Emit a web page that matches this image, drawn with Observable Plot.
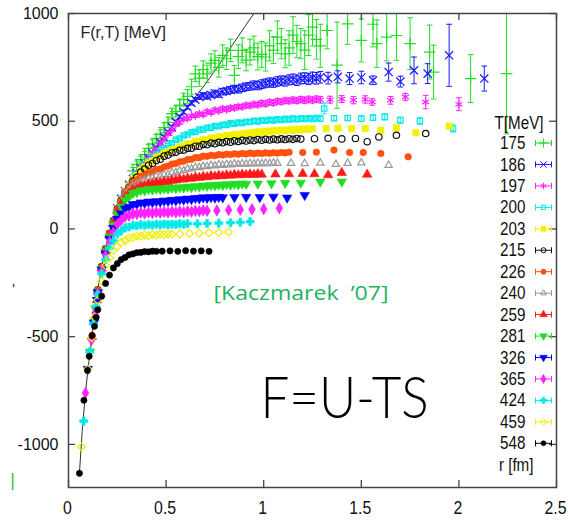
<!DOCTYPE html>
<html><head><meta charset="utf-8">
<script src="https://cdn.jsdelivr.net/npm/d3@7"></script>
<script src="https://cdn.jsdelivr.net/npm/@observablehq/plot@0.6"></script>
<style>body{margin:0;background:#fff;} #chart{width:568px;height:520px;}</style>
</head><body><div id="chart"></div>
<script>
// ---------- tick labels / categories ----------
const xTicks = [0, 0.5, 1, 1.5, 2, 2.5];
const yTicks = [-1000, -500, 0, 500, 1000];
const temps = [175, 186, 197, 200, 203, 215, 226, 240, 259, 281, 326, 365, 424, 459, 548];

// ---------- T=0 reference curve ----------
const lineR = [0.056,0.07,0.087,0.1,0.12,0.145,0.171,0.19,0.21,0.23,0.25,0.27,0.3,0.33,0.36,0.4,0.45,0.5,0.6,0.7,0.8,0.9,0.95];
const lineF = [-1134,-940,-760,-650,-500,-310,-170,-90,-20,40,95,140,190,232,270,316,375,436,557,670,800,935,1000];

// ---------- shared r grid for the dense part of every series ----------
const rDense = [0.15,0.17,0.19,0.21,0.23,0.25,0.27,0.29,0.31,0.33,0.35,0.37,0.39,0.41,0.43,0.45,0.47,0.49,0.51,0.53,0.55,0.57,0.59,0.61,0.63,0.65,0.67,0.69,0.71,0.73,0.75,0.77,0.79,0.81,0.83,0.85,0.87,0.89,0.91,0.93,0.95,0.97,0.99,1.01,1.03,1.05,1.07,1.09,1.11,1.13,1.15,1.17,1.19,1.21,1.23,1.25,1.27,1.29];

// T = 175 MeV
const d175 = [null,null,null,null,null,null,null,null,null,270,300,322,345,374,395,420,440,470,495,535,545,575,600,615,660,720,700,740,720,770,782,750,806,790,829,713,800,829,784,821,840,800,810,798,850,830,890,860,813,840,900,870,860,830,900,937,880,850];
const e175 = [null,null,null,null,null,null,null,null,null,15,15,16,16,17,18,18,20,22,24,25,26,28,30,32,35,36,38,40,40,42,45,45,48,50,52,45,55,58,50,60,55,62,60,65,70,62,75,70,65,80,85,75,70,90,95,88,92,100];
const t175r = [1.325,1.376,1.43,1.5,1.56,1.58,1.63,1.68,1.75,1.85,1.87,2.06,2.244];
const t175F = [921,760,952,875,950,860,890,898,860,821,728,698,721];
const t175e = [85,200,95,100,105,110,110,115,120,125,125,111,280];
// T = 186 MeV
const d186 = [null,null,null,null,null,95,140,175,205,232,258,282,305,330,352,377,402,426,450,473,497,520,543,565,585,600,612,620,615,622,630,625,637,640,645,650,648,655,660,662,668,665,672,676,680,678,685,688,686,692,695,690,698,700,696,702,699,704];
const e186 = [null,null,null,null,null,4,4,4,5,5,5,5,6,6,6,6,7,7,7,8,8,8,9,9,10,10,11,12,12,13,14,14,15,15,16,16,17,17,18,18,19,19,20,20,21,21,22,22,23,23,24,24,25,25,26,26,27,27];
const t186r = [1.33,1.38,1.44,1.5,1.56,1.64,1.7,1.77,1.84,1.95,2.13];
const t186F = [700,706,698,703,690,728,684,736,721,806,698];
const t186e = [27,28,28,29,20,42,25,62,46,144,58];
// T = 197 MeV
const d197 = [null,null,null,-18,42,93,142,173,207,230,260,280,307,326,352,370,397,416,442,460,484,494,510,513,524,526,535,531,544,540,552,548,558,554,562,561,568,567,574,572,579,576,584,580,589,585,593,590,596,594,599,595,601,597,602,598,603,600];
const e197 = [null,null,null,4,4,4,4,5,5,5,5,5,6,6,6,6,6,7,7,7,7,7,8,8,8,8,8,9,9,9,9,9,10,10,10,10,10,11,11,11,11,11,12,12,12,12,12,13,13,13,13,13,14,14,14,14,14,15];
const t197r = [1.34,1.4,1.46,1.52,1.556,1.65,1.726,1.83,2.0];
const t197F = [600,603,598,601,589,597,613,589,579];
const t197e = [16,16,17,17,15,18,16,31,30];
// T = 200 MeV
const d200 = [null,null,-88,-24,40,91,140,171,205,228,257,276,300,314,335,346,364,373,392,398,414,420,434,438,449,451,461,462,470,470,478,477,484,483,490,488,494,492,498,496,502,499,505,502,507,504,509,506,511,508,512,509,513,510,514,511,515,512];
const e200 = [null,null,3,3,3,3,3,3,4,4,4,4,4,4,5,5,5,5,5,5,6,6,6,6,6,6,7,7,7,7,7,7,8,8,8,8,8,8,9,9,9,9,9,9,10,10,10,10,10,10,11,11,11,11,11,11,12,12];
const t200r = [1.31,1.36,1.43,1.5,1.56,1.62,1.7,1.8,1.97];
const t200F = [559,514,515,512,516,520,505,501,466];
const t200e = [25,12,12,13,13,14,14,15,16];
// T = 203 MeV
const h203r = [0.14], h203F = [-365];
const d203 = [-282,-175,-93,-20,36,94,135,174,198,228,248,273,288,307,316,332,338,352,356,368,371,382,384,394,396,406,407,415,414,422,421,428,427,434,433,439,437,443,441,447,445,451,449,454,452,457,454,459,456,461,458,463,460,465,462,466];
const t203r = [1.32,1.38,1.45,1.52,1.6,1.68,1.78,1.95];
const t203F = [466,467,466,466,458,469,446,477];
// T = 215 MeV
const h215r = [0.133], h215F = [-420];
const d215 = [-283,-176,-95,-21,35,92,132,170,193,222,240,264,278,296,304,318,324,338,343,354,356,365,366,374,375,384,384,392,391,399,396,402,400,406,403,409,406,411,408,413,410,415,412,416,413,417,414,418,415,419,416,420,417];
const t215r = [1.26,1.33,1.4,1.47,1.53,1.59,1.68,1.83];
const t215F = [419,421,418,420,405,427,435,443];
// T = 226 MeV
const h226r = [0.121], h226F = [-495];
const d226 = [-285,-178,-97,-23,33,90,128,170,193,217,228,244,250,262,266,276,278,287,292,301,304,312,314,322,323,331,331,338,337,342,340,345,343,347,345,349,347,350,348,352,349,352,350,353,351,354,352,355,353,356];
const t226r = [1.2,1.27,1.36,1.44,1.51,1.6,1.74];
const t226F = [355,356,366,355,355,350,335];
// T = 240 MeV
const h240r = [0.13], h240F = [-430];
const d240 = [-287,-180,-99,-26,30,87,126,162,180,200,208,222,226,236,237,245,244,252,253,261,262,270,271,279,279,286,285,291,290,295,293,298,296,300,298,302,300,303,301,304,302,305,303,305,304,306,305];
const t240r = [1.14,1.21,1.29,1.37,1.43,1.5,1.64];
const t240F = [305,304,306,300,305,307,296];
// T = 259 MeV
const h259r = [0.12,0.146], h259F = [-500,-330];
const d259 = [-290,-183,-102,-30,26,82,118,150,164,181,187,198,200,208,208,215,214,219,219,225,226,231,230,235,234,240,238,243,241,246,244,248,246,250,248,252,250,253,251,254,252,255,253];
const t259r = [1.06,1.13,1.2,1.26,1.33,1.4,1.53];
const t259F = [254,255,256,255,250,261,253];
// T = 281 MeV
const h281r = [0.11,0.138], h281F = [-570,-370];
const d281 = [-292,-186,-107,-36,18,70,103,134,149,166,170,179,178,184,182,186,184,188,186,191,189,193,191,196,193,198,196,201,199,203,201,205,203,207,205,209,206,210,208];
const t281r = [0.97,1.04,1.11,1.19,1.29,1.4];
const t281F = [210,211,213,214,219,219];
// T = 326 MeV
const h326r = [0.099,0.13,0.146], h326F = [-650,-435,-330];
const d326 = [-295,-190,-114,-46,3,47,71,94,102,114,115,122,120,126,123,128,126,131,129,134,132,137,135,140,138,143,141,146,143,147,145,148,146];
const t326r = [0.85,0.91,0.98,1.05,1.12,1.21];
const t326F = [147,148,147,149,145,157];
// T = 365 MeV
const h365r = [0.087,0.118,0.136], h365F = [-761,-515,-390];
const d365 = [-300,-196,-124,-60,-17,22,40,57,61,70,69,75,72,77,74,78,75,79,76,80,77,81,78,82,80,84,82,86,84];
const t365r = [0.76,0.82,0.88,0.94,1.0,1.08];
const t365F = [86,88,89,91,92,96];
// T = 424 MeV
const h424r = [0.078,0.109,0.127,0.141], h424F = [-892,-570,-440,-360];
const d424 = [-305,-208,-142,-88,-54,-23,-9,6,9,17,15,20,17,21,18,22,19,23,20,22,21,24,22,25];
const t424r = [0.66,0.71,0.77,0.83,0.88,0.93];
const t424F = [24,26,27,29,31,34];
// T = 459 MeV
const h459r = [0.067,0.099,0.118,0.134], h459F = [-1011,-650,-505,-410];
const d459 = [-330,-242,-170,-135,-100,-82,-62,-54,-42,-40,-33,-34,-29,-31,-26,-28,-25,-27,-23,-25];
const t459r = [0.57,0.62,0.67,0.72,0.77,0.82];
const t459F = [-23,-21,-20,-18,-17,-14];
// T = 548 MeV
const h548r = [0.056,0.079,0.097,0.106,0.121,0.133,0.142], h548F = [-1134,-795,-657,-591,-495,-452,-410];
const d548 = [-375,-312,-253,-214,-181,-161,-142,-132,-120,-116,-110,-109,-105,-106,-103,-104];
const t548r = [0.48,0.52,0.56,0.6,0.64,0.68,0.72];
const t548F = [-103,-102,-104,-101,-103,-102,-104];

const colors = ["#22dd22","#1a1aff","#ff22ff","#00e8e8","#f2f200","#111111","#ff5010","#9a9a9a","#ff1a1a","#22dd22","#0000ff","#ff22ff","#00e8e8","#eeee00","#000000"];

function build(hr, hF, d, de, tr, tF, te) {
  const out = [];
  hr.forEach((r, i) => out.push({r, F: hF[i], e: null}));
  d.forEach((F, i) => { if (F != null) out.push({r: rDense[i], F, e: de ? de[i] : null}); });
  tr.forEach((r, i) => out.push({r, F: tF[i], e: te ? te[i] : null}));
  return out;
}
const seriesData = [
  build([], [], d175, e175, t175r, t175F, t175e),
  build([], [], d186, e186, t186r, t186F, t186e),
  build([], [], d197, e197, t197r, t197F, t197e),
  build([], [], d200, e200, t200r, t200F, t200e),
  build(h203r, h203F, d203, null, t203r, t203F, null),
  build(h215r, h215F, d215, null, t215r, t215F, null),
  build(h226r, h226F, d226, null, t226r, t226F, null),
  build(h240r, h240F, d240, null, t240r, t240F, null),
  build(h259r, h259F, d259, null, t259r, t259F, null),
  build(h281r, h281F, d281, null, t281r, t281F, null),
  build(h326r, h326F, d326, null, t326r, t326F, null),
  build(h365r, h365F, d365, null, t365r, t365F, null),
  build(h424r, h424F, d424, null, t424r, t424F, null),
  build(h459r, h459F, d459, null, t459r, t459F, null),
  build(h548r, h548F, d548, null, t548r, t548F, null)
];

// ---------- custom symbols ----------
const capSym = {draw(ctx, size){ const w = Math.sqrt(size) / 2; ctx.moveTo(-w, 0); ctx.lineTo(w, 0); }};
const triDown = {draw(ctx, size){ const y = -Math.sqrt(size / (3 * Math.sqrt(3))); const s3 = Math.sqrt(3); ctx.moveTo(0, -y * 2); ctx.lineTo(-s3 * y, y); ctx.lineTo(s3 * y, y); ctx.closePath(); }};
const legSym = {draw(ctx){ ctx.moveTo(-8, 0); ctx.lineTo(8, 0); ctx.moveTo(-8, -3); ctx.lineTo(-8, 3); ctx.moveTo(8, -3); ctx.lineTo(8, 3); }};

const styles = [
  {sym:"plus", filled:false, r:3.8},
  {sym:"times", filled:false, r:3.8},
  {sym:"asterisk", filled:false, r:3.8},
  {sym:"square2", filled:false, r:3.4},
  {sym:"square", filled:true, r:3.6},
  {sym:"circle", filled:false, r:3.2},
  {sym:"circle", filled:true, r:3.3},
  {sym:"triangle2", filled:false, r:3.5},
  {sym:"triangle", filled:true, r:3.5},
  {sym:triDown, filled:true, r:3.5},
  {sym:triDown, filled:true, r:3.5},
  {sym:"diamond", filled:true, r:3.5},
  {sym:"cross", filled:true, r:3.4},
  {sym:"diamond2", filled:false, r:3.5},
  {sym:"circle", filled:true, r:3.1}
];

const SANS = "'Liberation Sans',Arial,sans-serif";

const marks = [];
marks.push(Plot.line(lineR.map((r, i) => ({r, F: lineF[i]})), {x: "r", y: "F", stroke: "#333", strokeWidth: 1, clip: true}));

temps.forEach((T, k) => {
  const st = styles[k], col = colors[k];
  const data = seriesData[k];
  const withErr = data.filter(d => d.e != null);
  if (withErr.length) {
    marks.push(Plot.ruleX(withErr, {x: "r", y1: d => d.F - d.e, y2: d => d.F + d.e, stroke: col, strokeWidth: 1, clip: true}));
    marks.push(Plot.dot(withErr, {x: "r", y: d => d.F + d.e, symbol: capSym, r: 3.2, stroke: col, fill: "none", strokeWidth: 1, clip: true}));
    marks.push(Plot.dot(withErr, {x: "r", y: d => d.F - d.e, symbol: capSym, r: 3.2, stroke: col, fill: "none", strokeWidth: 1, clip: true}));
  }
  marks.push(Plot.dot(data, {x: "r", y: "F", symbol: st.sym, r: st.r,
    fill: st.filled ? col : "none", stroke: col, strokeWidth: st.filled ? 0.6 : 1.2, clip: true}));
});

// axes
marks.push(Plot.axisX(xTicks, {tickSize: 0, tickPadding: 14, dx: -1, tickFormat: d => String(d), fontSize: 18, fontFamily: SANS, fill: "#111", label: null}));
marks.push(Plot.axisY(yTicks, {tickSize: 0, tickPadding: 10, tickFormat: d => String(d), fontSize: 16, fontFamily: SANS, fill: "#111", label: null}));
const PH = 520 - 13 - 33, PW = 568 - 68 - 12;
marks.push(Plot.tickX(xTicks, {x: d => d, insetTop: PH - 7, stroke: "#444", strokeWidth: 1.3}));
marks.push(Plot.tickX(xTicks, {x: d => d, insetBottom: PH - 7, stroke: "#444", strokeWidth: 1.3}));
marks.push(Plot.tickY(yTicks, {y: d => d, insetRight: PW - 7, stroke: "#444", strokeWidth: 1.3}));
marks.push(Plot.tickY(yTicks, {y: d => d, insetLeft: PW - 7, stroke: "#444", strokeWidth: 1.3}));
marks.push(Plot.frame({stroke: "#444", strokeWidth: 1.5}));

// annotations
marks.push(Plot.text(["F(r,T) [MeV]"], {text: d => d, frameAnchor: "top-left", lineAnchor: "middle", dx: 12, dy: 19, textAnchor: "start", fontSize: 16, fontFamily: SANS, fill: "#222"}));
marks.push(Plot.text(["[Kaczmarek  \u201907]"], {text: d => d, frameAnchor: "top-left", lineAnchor: "middle", dx: 145, dy: 280, textAnchor: "start", fontSize: 20, fontFamily: "'Open Sans',sans-serif", fill: "#1fb35e"}));
marks.push(Plot.text(["F=U-TS"], {text: d => d, frameAnchor: "top-left", lineAnchor: "middle", dx: 192, dy: 386, textAnchor: "start", fontSize: 58, fontFamily: "Lato,'Open Sans',sans-serif", fontWeight: 300, fill: "#000"}));
marks.push(Plot.text(["'"], {text: d => d, frameAnchor: "top-left", lineAnchor: "middle", dx: -55, dy: 276, textAnchor: "middle", fontSize: 14, fontFamily: SANS, fill: "#222"}));
marks.push(Plot.text(["|"], {text: d => d, frameAnchor: "top-left", lineAnchor: "middle", dx: -56, dy: 467, textAnchor: "middle", fontSize: 18, fontFamily: SANS, fill: "#3cbf3c"}));

// legend
marks.push(Plot.text(["T[MeV]"], {text: d => d, frameAnchor: "top-right", lineAnchor: "middle", dx: -13, dy: 109, textAnchor: "end", fontSize: 19, fontFamily: SANS, fill: "#111"}));
temps.forEach((T, k) => {
  const st = styles[k], col = colors[k];
  const dy = 129.5 + 21.45 * k;
  marks.push(Plot.text([String(T)], {text: d => d, frameAnchor: "top-right", lineAnchor: "middle", dx: -31, dy, textAnchor: "end", fontSize: 19, fontFamily: SANS, fill: "#111"}));
  marks.push(Plot.dot([0], {frameAnchor: "top-right", dx: -13, dy, symbol: legSym, r: 3, stroke: col, fill: "none", strokeWidth: 1}));
  marks.push(Plot.dot([0], {frameAnchor: "top-right", dx: -13, dy, symbol: st.sym, r: st.r * 0.8, fill: st.filled ? col : "none", stroke: col, strokeWidth: st.filled ? 0.6 : 1}));
});
marks.push(Plot.text(["r [fm]"], {text: d => d, frameAnchor: "top-right", lineAnchor: "middle", dx: -23, dy: 129.5 + 21.45 * 15, textAnchor: "end", fontSize: 19, fontFamily: SANS, fill: "#111"}));

const chart = Plot.plot({
  width: 568, height: 520,
  marginLeft: 68, marginRight: 12, marginTop: 13, marginBottom: 33,
  x: {domain: [0, 2.5]},
  y: {domain: [-1200, 1000]},
  style: {background: "#fff", overflow: "visible"},
  marks
});
document.getElementById("chart").appendChild(chart);

// condensed look for legend texts and x tick labels; fixed widths for annotations
const legendSet = new Set(temps.map(String).concat(["T[MeV]", "r [fm]"]));
const xSet = new Set(xTicks.map(String));
chart.querySelectorAll("text").forEach(t => {
  const s = t.textContent;
  const b = t.getBoundingClientRect();
  let target = null;
  if (legendSet.has(s) && b.left > 470) target = b.width * 0.8;
  else if (xSet.has(s) && b.top > 490) target = b.width * 0.88;
  else if (s === "F=U-TS") target = 168;
  else if (s.startsWith("[Kaczmarek")) { target = 175; t.style.whiteSpace = "pre"; }
  if (target && target > 0) {
    t.setAttribute("textLength", target.toFixed(1));
    t.setAttribute("lengthAdjust", "spacingAndGlyphs");
  }
});
</script></body></html>
